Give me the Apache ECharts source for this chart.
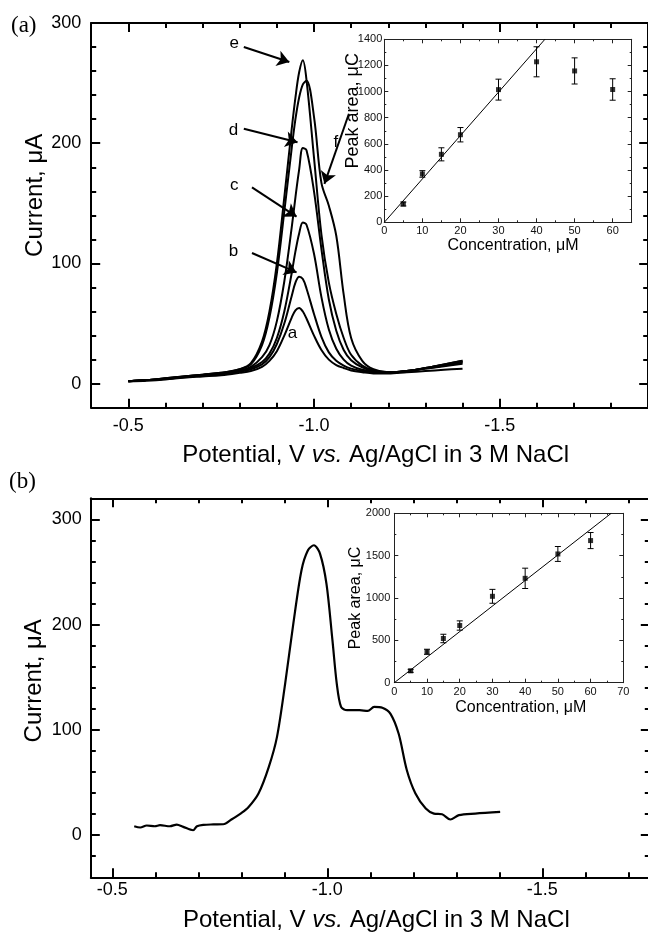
<!DOCTYPE html>
<html>
<head>
<meta charset="utf-8">
<script src="https://cdn.jsdelivr.net/npm/echarts@6/dist/echarts.min.js"></script>
<style>html,body{margin:0;padding:0;background:#fff}#c{width:648px;height:934px}</style>
</head>
<body>
<div id="c"></div>
<script>
// ---------- Panel (a): voltammograms a-f ----------
const potentialA = [-0.50,-0.55,-0.60,-0.65,-0.70,-0.75,-0.80,-0.83,-0.86,-0.88,-0.90,-0.92,-0.94,-0.95,-0.96,-0.97,-0.98,-1.00,-1.02,-1.04,-1.06,-1.08,-1.10,-1.13,-1.16,-1.20,-1.25,-1.30,-1.35,-1.40];
const currentA_a = [2,2.5,3.5,5,6,7,9,10.5,14,19,27,40,55,61,63,60,54,40,28,20,15.5,13,11,9.5,8.5,8.5,9.5,10.5,11.5,12.5];
const currentA_b = [2,3,4,5.5,6.5,8,10,12,16,22,33,50,73,84,89,87,79,58,39,26,19,15,12.5,10.5,9.5,9,10.5,12.5,14.5,16.5];
const currentA_c = [2,3,4,5.5,7,8.5,10.5,13,18,25,38,60,92,110,125,134,132,108,72,45,29,20,15,11.5,10,9,10.5,12.5,15,17.5];
const currentA_d = [2,3,4,6,7,8.5,11,14,22,32,52,85,130,155,178,196,194,160,112,70,44,28,19.5,13.5,10.5,9.5,10.5,13,15.5,18];
const currentA_e = [2,3,4.5,6,7.5,9,12,17,35,60,100,155,212,238,259,269,252,188,124,84,58,38,24,15,11,9.5,10.5,13,16,19];
const currentA_f = [2,3,4.5,6,7.5,9,12,16,32,55,92,143,196,220,238,249,252,222,167,148,123,74,38,19,12,9.5,10.5,13,16,19];

// curve letters (potential, current) and arrows [fromPot, fromCur, toPot, toCur]
const letterNames = ['e','d','c','b','a','f'];
const letterPot   = [-0.785,-0.783,-0.785,-0.783,-0.942,-1.059];
const letterCur   = [282.8,210.6,164.8,110,41.7,200.8];
const arrowsA = [
  [-0.811,280,-0.9335,267.5],
  [-0.811,212,-0.9556,200.8],
  [-0.833,163.3,-0.953,139],
  [-0.833,108.7,-0.953,92.5],
  [-1.094,224.5,-1.028,166.2]
];

// ---------- Inset (a) ----------
const concA = [5,10,15,20,30,40,50,60];
const areaA = [140,370,520,670,1015,1228,1158,1016];
const errA  = [15,25,50,55,80,115,100,82];
const fitA_conc = [0,42.2];
const fitA_area = [0,1400];

// ---------- Panel (b) ----------
const potentialB = [-0.551,-0.565,-0.58,-0.599,-0.611,-0.634,-0.65,-0.665,-0.688,-0.697,-0.712,-0.735,-0.758,-0.777,-0.80,-0.816,-0.84,-0.864,-0.883,-0.902,-0.921,-0.94,-0.955,-0.969,-0.983,-0.998,-1.012,-1.022,-1.032,-1.046,-1.075,-1.094,-1.109,-1.128,-1.147,-1.166,-1.185,-1.205,-1.229,-1.248,-1.267,-1.286,-1.306,-1.344,-1.402];
const currentB   = [8.5,7.3,9.2,8.5,9.5,8.5,10.1,7.9,4.7,8.5,9.8,10.2,10.4,14.9,21,26.3,39.6,64.9,93.4,144,201,251.7,270.6,275.4,267.5,239,185,144,121.8,118.7,118.7,118,121.8,121,115.3,96.3,61.7,39.6,25.3,20.5,19.9,14.9,19,20.5,22.1];

// ---------- Inset (b) ----------
const concB = [5,10,15,20,30,40,50,60];
const areaB = [140,365,522,675,1020,1232,1520,1678];
const errB  = [18,30,50,55,82,120,88,95];
const fitB_conc = [0,66.3];
const fitB_area = [0,2000];

// ---------- tick values ----------
const tickA_xMajor = [-0.5,-1.0,-1.5];
const tickA_xMinor = [-0.5,-0.6,-0.7,-0.8,-0.9,-1.0,-1.1,-1.2,-1.3,-1.4,-1.5,-1.6,-1.7,-1.8];
const tickA_yMajor = [0,100,200,300];
const tickA_yMinor = [20,40,60,80,120,140,160,180,220,240,260,280];
const tickB_xMajor = [-0.5,-1.0,-1.5];
const tickB_xMinor = [-0.5,-0.6,-0.7,-0.8,-0.9,-1.0,-1.1,-1.2,-1.3,-1.4,-1.5,-1.6,-1.7];
const tickB_yMajor = [0,100,200,300];
const tickB_yMinor = [-20,20,40,60,80,120,140,160,180,220,240,260,280];

const FONT = "'Liberation Sans', Arial, Helvetica, sans-serif";
const BLACK = '#000';

function frameAxes(gi, min, max, inverse, majors, minors, pos1, pos2, label, nameCfg) {
  const base = {type:'value', gridIndex:gi, min:min, max:max, inverse:inverse, splitLine:{show:false}, axisPointer:{show:false}, nameMoveOverlap:false};
  const line = {show:true, onZero:false, lineStyle:{color:BLACK, width:2}};
  const noLine = {show:false, onZero:false};
  const tick = (vals, len) => ({show:true, inside:true, length:len, customValues:vals, lineStyle:{color:BLACK, width:2}});
  const primary = Object.assign({}, base, {position:pos1, axisLine:line, axisTick:tick(majors,9), axisLabel:label});
  if (nameCfg) Object.assign(primary, nameCfg);
  return [
    primary,
    Object.assign({}, base, {position:pos1, axisLine:noLine, axisTick:tick(minors,5), axisLabel:{show:false}}),
    Object.assign({}, base, {position:pos2, axisLine:line, axisTick:tick(majors,9), axisLabel:{show:false}}),
    Object.assign({}, base, {position:pos2, axisLine:noLine, axisTick:tick(minors,5), axisLabel:{show:false}})
  ];
}

function insetAxes(gi, min, max, interval, pos1, pos2, label, nameCfg) {
  const base = {type:'value', gridIndex:gi, min:min, max:max, interval:interval, splitLine:{show:false}, axisPointer:{show:false}, nameMoveOverlap:false,
    axisLine:{show:true, onZero:false, lineStyle:{color:'#222', width:1}},
    axisTick:{show:true, inside:true, length:4, lineStyle:{color:'#222', width:1}},
    minorTick:{show:true, splitNumber:2, length:2, lineStyle:{color:'#222', width:1}}};
  const primary = Object.assign({}, base, {position:pos1, axisLabel:label});
  if (nameCfg) Object.assign(primary, nameCfg);
  return [primary, Object.assign({}, base, {position:pos2, axisLabel:{show:false}})];
}

const mainLabelX = (m) => ({show:true, customValues:null, margin:m, fontSize:18, fontFamily:FONT, color:BLACK, formatter:(v)=>v.toFixed(1)});
const mainLabelY = (m) => ({show:true, customValues:null, margin:m, fontSize:18, fontFamily:FONT, color:BLACK, formatter:(v)=>String(Math.round(v))});
const insetLabel = (m, extra) => Object.assign({show:true, margin:m, fontSize:11, fontFamily:FONT, color:'#111', formatter:(v)=>String(Math.round(v))}, extra||{});

const xTitle = (gap, pad) => ({
  name:'{n|Potential, V }{i|vs.}{n| Ag/AgCl in 3 M NaCl}', nameLocation:'middle', nameGap:gap,
  nameTextStyle:{padding:pad, rich:{n:{fontSize:24, fontFamily:FONT, color:BLACK}, i:{fontSize:24, fontFamily:FONT, fontStyle:'italic', color:BLACK}}}
});
const yTitle = (gap, pad) => ({name:'Current, μA', nameLocation:'middle', nameGap:gap,
  nameTextStyle:{fontSize:24, fontFamily:FONT, color:BLACK, padding:pad}});

const lxA = mainLabelX(9); lxA.customValues = tickA_xMajor;
const lyA = mainLabelY(10); lyA.customValues = tickA_yMajor;
const lxB = mainLabelX(4); lxB.customValues = tickB_xMajor;
const lyB = mainLabelY(9); lyB.customValues = tickB_yMajor;

const xAxes = [].concat(
  frameAxes(0, -1.9, -0.4, true, tickA_xMajor, tickA_xMinor, 'bottom', 'top', lxA, xTitle(36, [0,0,0,12])),
  insetAxes(1, 0, 65, 10, 'bottom', 'top', insetLabel(3, {showMaxLabel:false}),
    {name:'Concentration, μM', nameLocation:'middle', nameGap:15, nameTextStyle:{fontSize:16, fontFamily:FONT, color:BLACK, padding:[0,0,0,10]}}),
  frameAxes(2, -1.75, -0.45, true, tickB_xMajor, tickB_xMinor, 'bottom', 'top', lxB, xTitle(31, [0,0,0,12])),
  insetAxes(3, 0, 70, 10, 'bottom', 'top', insetLabel(4),
    {name:'Concentration, μM', nameLocation:'middle', nameGap:17, nameTextStyle:{fontSize:16, fontFamily:FONT, color:BLACK, padding:[0,0,0,24]}})
);
const yAxes = [].concat(
  frameAxes(0, -20, 300, false, tickA_yMajor, tickA_yMinor, 'left', 'right', lyA, yTitle(44, [0,0,0,40])),
  insetAxes(1, 0, 1400, 200, 'left', 'right', insetLabel(2),
    {name:'Peak area, μC', nameLocation:'middle', nameGap:22, nameTextStyle:{fontSize:18, fontFamily:FONT, color:BLACK, padding:[0,0,0,40]}}),
  frameAxes(2, -40, 320, false, tickB_yMajor, tickB_yMinor, 'left', 'right', lyB, yTitle(44, [0,0,0,14])),
  insetAxes(3, 0, 2000, 500, 'left', 'right', insetLabel(4),
    {name:'Peak area, μC', nameLocation:'middle', nameGap:31, nameTextStyle:{fontSize:16, fontFamily:FONT, color:BLACK}})
);

function zip(xs, ys) { return xs.map((x, i) => [x, ys[i]]); }

function curve(ys, withMarks) {
  const s = {type:'line', xAxisIndex:0, yAxisIndex:0, data:zip(potentialA, ys), showSymbol:false, smooth:0.35,
    lineStyle:{color:BLACK, width:2}, silent:true, z:3};
  if (withMarks) {
    s.markLine = {silent:true, symbol:['none','arrow'], symbolSize:12, label:{show:false}, emphasis:{disabled:true},
      lineStyle:{color:BLACK, width:2, type:'solid'}, itemStyle:{color:BLACK},
      data: arrowsA.map(a => [{coord:[a[0], a[1]], symbol:'none'}, {coord:[a[2], a[3]], symbol:'arrow', symbolSize:12}])};
    s.markPoint = {silent:true, symbol:'circle', symbolSize:0,
      label:{show:true, position:'inside', formatter:'{b}', color:BLACK, fontSize:17, fontFamily:FONT},
      data: letterNames.map((t, i) => ({name:t, coord:[letterPot[i], letterCur[i]]}))};
  }
  return s;
}

function errorBars(xi, yi, xs, ys, es) {
  return {type:'custom', xAxisIndex:xi, yAxisIndex:yi, silent:true, z:4,
    data: xs.map((x, i) => [x, ys[i] - es[i], ys[i] + es[i]]),
    encode:{x:0, y:[1,2]},
    renderItem:(params, api) => {
      const lo = api.coord([api.value(0), api.value(1)]);
      const hi = api.coord([api.value(0), api.value(2)]);
      const w = 3, st = {stroke:'#000', lineWidth:1};
      return {type:'group', children:[
        {type:'line', shape:{x1:lo[0], y1:lo[1], x2:hi[0], y2:hi[1]}, style:st},
        {type:'line', shape:{x1:lo[0]-w, y1:lo[1], x2:lo[0]+w, y2:lo[1]}, style:st},
        {type:'line', shape:{x1:hi[0]-w, y1:hi[1], x2:hi[0]+w, y2:hi[1]}, style:st}
      ]};
    }};
}

const series = [
  curve(currentA_a, true), curve(currentA_b), curve(currentA_c), curve(currentA_d), curve(currentA_e), curve(currentA_f),
  {type:'line', xAxisIndex:4, yAxisIndex:4, data:zip(fitA_conc, fitA_area), showSymbol:false, lineStyle:{color:BLACK, width:1}, silent:true, z:3},
  errorBars(4, 4, concA, areaA, errA),
  {type:'scatter', xAxisIndex:4, yAxisIndex:4, data:zip(concA, areaA), symbol:'rect', symbolSize:5, itemStyle:{color:BLACK}, silent:true, z:5},
  {type:'line', xAxisIndex:6, yAxisIndex:6, data:zip(potentialB, currentB), showSymbol:false, smooth:0.3, lineStyle:{color:BLACK, width:2.2}, silent:true, z:3},
  {type:'line', xAxisIndex:10, yAxisIndex:10, data:zip(fitB_conc, fitB_area), showSymbol:false, lineStyle:{color:BLACK, width:1}, silent:true, z:3},
  errorBars(10, 10, concB, areaB, errB),
  {type:'scatter', xAxisIndex:10, yAxisIndex:10, data:zip(concB, areaB), symbol:'rect', symbolSize:5, itemStyle:{color:BLACK}, silent:true, z:5}
];

const gridBase = {containLabel:false, outerBoundsMode:'none'};
const chart = echarts.init(document.getElementById('c'), null, {renderer:'canvas'});
chart.setOption({
  animation:false,
  backgroundColor:'#fff',
  grid:[
    Object.assign({left:91.2, top:23, width:557, height:384.7}, gridBase),
    Object.assign({left:384.3, top:39.3, width:247.4, height:183, show:true, backgroundColor:'#fff', borderWidth:0}, gridBase),
    Object.assign({left:90.8, top:498.3, width:559, height:379}, gridBase),
    Object.assign({left:394.3, top:513.3, width:229, height:169.4, show:true, backgroundColor:'#fff', borderWidth:0}, gridBase)
  ],
  xAxis:xAxes,
  yAxis:yAxes,
  series:series,
  graphic:[
    {type:'text', left:11, top:14, style:{text:'(a)', font:"23px 'Liberation Serif', 'Times New Roman', serif", fill:BLACK}},
    {type:'text', left:9, top:470, style:{text:'(b)', font:"23px 'Liberation Serif', 'Times New Roman', serif", fill:BLACK}}
  ]
});
</script>
</body>
</html>
